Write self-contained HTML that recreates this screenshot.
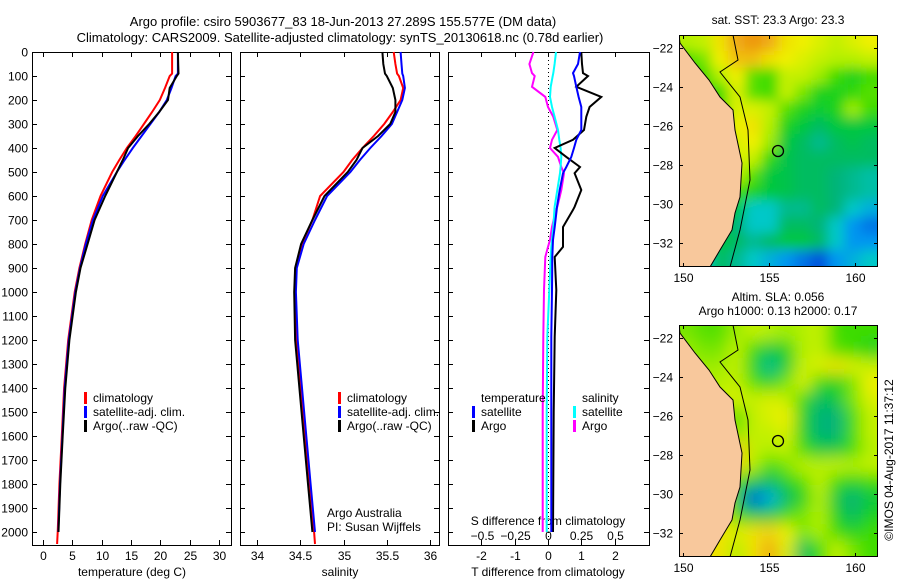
<!DOCTYPE html>
<html><head><meta charset="utf-8"><style>
html,body{margin:0;padding:0;background:#fff}
svg{display:block;font-family:"Liberation Sans",sans-serif;font-size:12px}
</style></head><body>
<svg id="chart" width="900" height="580" viewBox="0 0 900 580" xmlns="http://www.w3.org/2000/svg">
<defs>
<filter id="blur1" filterUnits="userSpaceOnUse" x="660" y="15" width="240" height="272"><feGaussianBlur stdDeviation="6"/></filter>
<filter id="blur2" filterUnits="userSpaceOnUse" x="660" y="305" width="240" height="272"><feGaussianBlur stdDeviation="8"/></filter>
<clipPath id="clip1"><rect x="679" y="35" width="199" height="232"/></clipPath>
<clipPath id="clip2"><rect x="679" y="325" width="199" height="232"/></clipPath>
</defs>
<text x="343" y="26" text-anchor="middle" font-size="13">Argo profile: csiro 5903677_83 18-Jun-2013 27.289S 155.577E (DM data)</text>
<text x="340" y="42" text-anchor="middle" font-size="13">Climatology: CARS2009. Satellite-adjusted climatology: synTS_20130618.nc (0.78d earlier)</text>
<g id="g"></g>
<text x="778" y="24" text-anchor="middle">sat. SST: 23.3 Argo: 23.3</text>
<text x="778" y="301" text-anchor="middle">Altim. SLA: 0.056</text>
<text x="778" y="315" text-anchor="middle">Argo h1000: 0.13 h2000: 0.17</text>
<text transform="translate(893,460) rotate(-90)" text-anchor="middle">©IMOS 04-Aug-2017 11:37:12</text>
<text x="327" y="517">Argo Australia</text>
<text x="327" y="531">PI: Susan Wijffels</text>
</svg>
<script>
// profile data
const depths=[0,50,90,100,150,200,250,300,350,400,450,500,600,700,800,900,1000,1200,1400,1600,1800,2000,2050];
const tClim=[22.0,22.0,22.0,21.6,20.8,19.9,18.6,17.2,15.8,14.3,13.0,11.8,9.8,8.3,7.2,6.2,5.4,4.3,3.6,3.2,2.8,2.5,2.4];
const tSat=[23.0,23.0,23.0,22.6,21.9,21.1,19.8,18.3,16.8,15.3,13.9,12.6,10.2,8.5,7.3,6.3,5.5,4.4,3.7,3.3,2.9,2.6,null];
const tArgo=[23.0,23.05,23.1,22.8,21.6,21.3,19.8,18.1,16.2,14.5,13.6,12.6,10.6,8.8,7.6,6.4,5.6,4.5,3.8,3.35,2.95,2.65,null];
const sClim=[35.58,35.6,35.62,35.64,35.69,35.66,35.57,35.47,35.35,35.22,35.1,35.0,34.73,34.64,34.52,34.45,34.44,34.46,34.51,34.56,34.61,34.66,34.67];
const sSat=[35.66,35.67,35.68,35.69,35.71,35.68,35.62,35.56,35.44,35.31,35.19,35.08,34.81,34.67,34.54,34.46,34.45,34.47,34.52,34.57,34.62,34.67,null];
const sArgo=[35.45,35.46,35.48,35.5,35.57,35.6,35.6,35.54,35.4,35.22,35.15,35.05,34.78,34.64,34.51,34.44,34.43,34.44,34.49,34.54,34.59,34.64,null];
// difference data
const dDepths=[0,50,88,100,145,187,229,270,325,366,400,437,479,505,575,645,658,729,783,812,854,992,1187,1500,2000];
const tdArgo=[1.0,1.02,1.05,1.2,0.85,1.6,1.25,1.15,1.08,0.75,0.2,0.55,0.96,0.8,1.0,0.8,0.75,0.45,0.45,0.45,0.2,0.25,0.2,0.17,0.15];
const tdSat=[0.96,0.9,0.75,0.78,0.85,0.92,1.0,1.0,1.0,0.85,0.78,0.7,0.55,0.45,0.35,0.27,0.26,0.2,0.15,0.14,0.13,0.12,0.1,0.1,0.1];
const sdSat=[0.06,0.05,0.04,0.035,0.02,0.015,0.03,0.05,0.075,0.085,0.095,0.1,0.095,0.09,0.07,0.05,0.048,0.04,0.03,0.025,0.02,0.01,-0.005,-0.01,-0.01];
const sdArgo=[-0.11,-0.14,-0.12,-0.1,-0.12,-0.02,0.0,0.04,0.07,0.03,0.015,0.075,0.1,0.12,0.1,0.07,0.06,0.03,0.015,0.0,-0.02,-0.03,-0.035,-0.04,-0.04];
// tick labels
const depthTicks=[0,100,200,300,400,500,600,700,800,900,1000,1100,1200,1300,1400,1500,1600,1700,1800,1900,2000];
const tTicks=[0,5,10,15,20,25,30];
const sTicks=[34,34.5,35,35.5,36];
const tdTicks=[-2,-1,0,1,2];
const sdTicks=[-0.5,-0.25,0,0.25,0.5];
const latTicks=[-22,-24,-26,-28,-30,-32];
const lonTicks=[150,155,160];
// map fields (0=blue .. 1=orange)
const sstGrid=[
[.7,.72,.8,.88,.92,.88,.8,.78,.75,.72,.75,.78],
[.6,.65,.78,.85,.85,.8,.78,.75,.72,.7,.7,.72],
[.55,.6,.7,.78,.62,.6,.72,.72,.68,.6,.55,.6],
[.55,.55,.6,.75,.62,.6,.72,.65,.55,.55,.58,.62],
[.55,.55,.6,.75,.75,.72,.62,.55,.52,.55,.68,.6],
[.5,.55,.58,.78,.8,.7,.55,.5,.45,.5,.5,.5],
[.45,.5,.6,.75,.78,.68,.5,.45,.4,.45,.48,.45],
[.45,.5,.62,.75,.72,.58,.48,.45,.45,.45,.45,.45],
[.45,.5,.6,.72,.62,.5,.48,.45,.45,.42,.4,.38],
[.45,.5,.55,.6,.55,.5,.48,.45,.45,.42,.4,.38],
[.45,.5,.5,.5,.35,.35,.4,.4,.45,.42,.35,.3],
[.4,.45,.5,.42,.35,.35,.45,.45,.42,.35,.25,.2],
[.35,.4,.5,.45,.4,.45,.5,.5,.45,.35,.25,.25],
[.3,.35,.45,.4,.35,.3,.25,.2,.15,.25,.3,.35]];
const slaGrid=[
[.65,.62,.62,.68,.72,.7,.68,.7,.72,.6,.6,.6],
[.68,.65,.65,.72,.6,.5,.55,.7,.72,.62,.6,.55],
[.68,.68,.68,.72,.55,.4,.52,.72,.75,.8,.75,.72],
[.7,.7,.7,.72,.62,.55,.65,.75,.6,.55,.65,.78],
[.7,.7,.72,.75,.72,.75,.72,.6,.45,.5,.65,.75],
[.7,.7,.72,.6,.72,.75,.78,.55,.42,.42,.6,.72],
[.7,.72,.75,.65,.72,.72,.75,.55,.42,.42,.6,.72],
[.7,.75,.8,.85,.72,.7,.72,.6,.5,.5,.6,.7],
[.7,.78,.8,.82,.7,.6,.65,.72,.7,.72,.7,.72],
[.72,.8,.8,.6,.5,.45,.55,.62,.72,.6,.55,.6],
[.72,.8,.8,.5,.15,.3,.45,.55,.7,.5,.42,.5],
[.72,.8,.8,.6,.5,.5,.6,.65,.7,.55,.45,.55],
[.72,.8,.8,.75,.8,.82,.78,.65,.7,.6,.55,.6],
[.72,.8,.8,.7,.8,.88,.75,.45,.6,.72,.65,.6]];

const NS='http://www.w3.org/2000/svg';
const G=document.getElementById('g');
function mk(tag,attrs,parent){const e=document.createElementNS(NS,tag);for(const k in attrs)e.setAttribute(k,attrs[k]);(parent||G).appendChild(e);return e;}
function txt(x,y,s,anchor,name){const t=mk('text',{x:x,y:y,'text-anchor':anchor||'start'});t.textContent=s;


return t;}
const yD=d=>52+d*0.24;
const xT=v=>43+v*5.867;
const xS=v=>257+(v-34)*86.5;
const xTD=v=>548+v*33.3;
const xSD=v=>548+v*133;
const panels=[[32,231],[240,439],[448,649]];
const TOP=52,BOT=545;
panels.forEach((p,i)=>{const r=mk('rect',{x:p[0]+.5,y:TOP+.5,width:p[1]-p[0],height:BOT-TOP,fill:'none',stroke:'#000'});


});
depthTicks.forEach(d=>{const y=Math.round(yD(d))+.5;
panels.forEach(p=>{mk('line',{x1:p[0],x2:p[0]+5,y1:y,y2:y,stroke:'#000'});mk('line',{x1:p[1]-5,x2:p[1],y1:y,y2:y,stroke:'#000'});});
txt(28,y+4,String(d),'end','depth-tick-label');});
function xticks(vals,fx,p,labelY,name,top,bottom,labels){vals.forEach(v=>{const x=Math.round(fx(v))+.5;
if(top)mk('line',{x1:x,x2:x,y1:TOP,y2:TOP+5,stroke:'#000'});
if(bottom)mk('line',{x1:x,x2:x,y1:BOT-5,y2:BOT,stroke:'#000'});
if(labelY)txt(x,labelY,labels?labels(v):String(v),'middle',name);});}
xticks(tTicks,xT,panels[0],560,'temperature-tick-label',true,true);
xticks(sTicks,xS,panels[1],560,'salinity-tick-label',true,true);
xticks(tdTicks,xTD,panels[2],560,'t-diff-tick-label',true,true,v=>String(v));
xticks(sdTicks,xSD,panels[2],540,'s-diff-tick-label',false,false,v=>v<0?'\u2212'+Math.abs(v):String(v));
txt(132,576,'temperature (deg C)','middle','temperature-axis-title');
txt(340,576,'salinity','middle','salinity-axis-title');
txt(548,576,'T difference from climatology','middle','t-diff-axis-title');
txt(548,525,'S difference from climatology','middle','s-diff-axis-title');
const zl=mk('line',{x1:548.5,x2:548.5,y1:TOP,y2:BOT,stroke:'#000','stroke-dasharray':'1,3'});


function line(ds,vals,fx,color,name,w){let pts=[];ds.forEach((d,i)=>{if(vals[i]!==null)pts.push(fx(vals[i]).toFixed(1)+','+yD(d).toFixed(1));});
const l=mk('polyline',{points:pts.join(' '),fill:'none',stroke:color,'stroke-width':w||2});

}
line(depths,tClim,xT,'#f00','temp-climatology-line');
line(depths,tSat,xT,'#00f','temp-satellite-line');
line(depths,tArgo,xT,'#000','temp-argo-line');
line(depths,sClim,xS,'#f00','sal-climatology-line');
line(depths,sSat,xS,'#00f','sal-satellite-line');
line(depths,sArgo,xS,'#000','sal-argo-line');
line(dDepths,sdArgo,xSD,'#f0f','sdiff-argo-line');
line(dDepths,sdSat,xSD,'#0ff','sdiff-satellite-line');
line(dDepths,tdArgo,xTD,'#000','tdiff-argo-line');
line(dDepths,tdSat,xTD,'#00f','tdiff-satellite-line');
function leg(x,y,color,label,name){const m=mk('rect',{x:x,y:y-10,width:3,height:12,fill:color});


txt(x+9,y,label,'start',name);}
[[84,'#f00','climatology'],[84,'#00f','satellite-adj. clim.'],[84,'#000','Argo(..raw -QC)']].forEach((a,i)=>leg(a[0],402+i*14,a[1],a[2],'temp-legend-entry'));
[[338,'#f00','climatology'],[338,'#00f','satellite-adj. clim.'],[338,'#000','Argo(..raw -QC)']].forEach((a,i)=>leg(a[0],402+i*14,a[1],a[2],'sal-legend-entry'));
txt(481,402,'temperature','start','legend-temperature-header');
txt(582,402,'salinity','start','legend-salinity-header');
leg(472,416,'#00f','satellite','legend-t-satellite');
leg(472,430,'#000','Argo','legend-t-argo');
leg(573,416,'#0ff','satellite','legend-s-satellite');
leg(573,430,'#f0f','Argo','legend-s-argo');
// maps
const stops=[[0,[0,0,160]],[.15,[0,80,220]],[.25,[0,150,240]],[.35,[0,200,200]],[.42,[0,180,120]],[.5,[0,200,60]],[.6,[60,220,0]],[.7,[180,240,0]],[.78,[240,240,0]],[.88,[240,170,20]],[1,[230,110,0]]];
function cmap(v){for(let i=1;i<stops.length;i++){if(v<=stops[i][0]){const a=stops[i-1],b=stops[i],f=(v-a[0])/(b[0]-a[0]);
return 'rgb('+a[1].map((c,k)=>Math.round(c+f*(b[1][k]-c))).join(',')+')';}}return 'rgb(230,110,0)';}
const coast=[[0,0],[1,8],[16,28],[30,45],[41,62],[54,75],[56,95],[63,128],[61,162],[56,178],[53,195],[41,215],[31,232]];
const isobath=[[54,0],[59,25],[41,37],[61,62],[69,95],[71,145],[69,155],[61,195],[51,232]];
function drawMap(grid,ox,oy,w,h,clip,blur,name,circ){const g=mk('g',{'clip-path':'url(#'+clip+')'});


mk('rect',{x:ox,y:oy,width:w,height:h,fill:cmap(grid[6][6])},g);
const cw=w/grid[0].length,ch=h/grid.length;
const f=mk('g',{filter:'url(#'+blur+')'},g);
grid.forEach((row,r)=>row.forEach((v,c)=>{const x0=c==0?ox-15:ox+c*cw-0.5,y0=r==0?oy-15:oy+r*ch-0.5;
const x1=c==row.length-1?ox+w+15:ox+(c+1)*cw+0.5,y1=r==grid.length-1?oy+h+15:oy+(r+1)*ch+0.5;
const cell=mk('rect',{x:x0,y:y0,width:x1-x0,height:y1-y0,fill:cmap(v)},f);

}));
const land=[[-2,0]].concat(coast,[[-2,h]]).map(p=>(ox+p[0])+','+(oy+p[1])).join(' ');
const lp=mk('polygon',{points:land,fill:'#f8c89c',stroke:'#000','stroke-width':1},g);


const iso=mk('polyline',{points:isobath.map(p=>(ox+p[0])+','+(oy+p[1])).join(' '),fill:'none',stroke:'#000','stroke-width':1},g);


const c=mk('circle',{cx:circ[0],cy:circ[1],r:5.5,fill:'none',stroke:'#000','stroke-width':1.3},g);


const b=mk('rect',{x:ox+.5,y:oy+.5,width:w-1,height:h-1,fill:'none',stroke:'#000'});


const latY=lat=>oy+13+(-22-lat)*19.5;
latTicks.forEach(l=>{const y=Math.round(latY(l))+.5;mk('line',{x1:ox,x2:ox+4,y1:y,y2:y,stroke:'#000'});mk('line',{x1:ox+w-4,x2:ox+w,y1:y,y2:y,stroke:'#000'});
txt(ox-6,y+4,'\u2212'+Math.abs(l),'end','latitude-tick-label');});
lonTicks.forEach(l=>{const x=Math.round(683+(l-150)*17.2)+.5;mk('line',{x1:x,x2:x,y1:oy+h-4,y2:oy+h,stroke:'#000'});mk('line',{x1:x,x2:x,y1:oy,y2:oy+4,stroke:'#000'});
txt(x,oy+h+15,String(l),'middle','longitude-tick-label');});}
drawMap(sstGrid,679,35,199,232,'clip1','blur1','sst-map',[778,151]);
drawMap(slaGrid,679,325,199,232,'clip2','blur2','sla-map',[778,441]);
</script>
</body></html>
